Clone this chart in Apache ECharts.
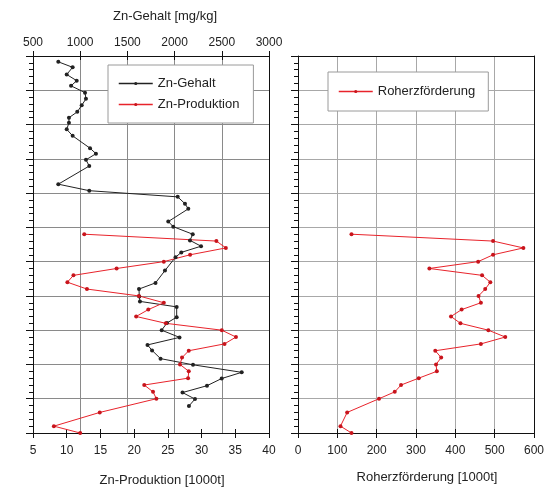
<!DOCTYPE html>
<html><head><meta charset="utf-8">
<script src="https://cdn.jsdelivr.net/npm/echarts@6/dist/echarts.min.js"></script>
<style>html,body{margin:0;padding:0;background:#fff}#c{width:547px;height:493px}</style>
</head><body><div id="c"></div>
<script>
// Zn-Gehalt (sediment) – year position and content mg/kg
const gehaltYears = [1958.3,1956.7,1954.6,1952.8,1951.3,1949.3,1947.5,1945.6,1943.7,1942.0,1940.5,1938.6,1936.7,1933.1,1931.5,1929.7,1927.9,1922.6,1920.7,1918.9,1916.9,1915.4,1911.7,1910.2,1908.0,1906.2,1904.5,1902.7,1901.3,1897.4,1893.8,1892.0,1889.8,1888.4,1886.8,1883.8,1882.1,1880.0,1877.9,1875.7,1874.1,1871.7,1869.9,1867.7,1865.9,1863.8,1861.8,1859.9,1857.9];
const gehaltValues = [768,920,857,963,903,1051,1061,1016,969,881,881,857,920,1104,1167,1061,1096,768,1096,2033,2110,2145,1933,1986,2192,2163,2280,2071,2010,1898,1798,1623,1626,1633,2022,2022,1919,1863,2052,1713,1761,1851,2195,2711,2499,2343,2084,2216,2152];
// Production years
const prodYears = [1908,1906,1904,1902,1900,1898,1896,1894,1892,1890,1888,1886,1884,1882,1880,1878,1876,1874,1872,1870,1868,1866,1864,1862,1860,1856,1852,1850];
const znProduktion = [12.6,32.2,33.6,28.3,24.4,17.4,11.0,10.1,13.0,20.7,24.4,22.1,20.3,24.7,33.0,35.1,33.4,28.1,27.1,26.8,28.1,28.0,21.5,22.8,23.3,14.9,8.1,12.0];
const roherz = [136,496,573,496,458,334,468,489,476,459,465,416,389,413,484,527,465,349,364,351,353,307,262,246,206,125,108,136];
// tick ranges
const gehaltTicks = {min:500, max:3000, interval:500};
const prodTicks = {min:5, max:40, interval:5};
const roherzTicks = {min:0, max:600, interval:100};
const yearTicks = {min:1850, max:1960, interval:10};

const zip = (xs, ys) => xs.map((x, i) => [x, ys[i]]);
const FONT = 'Liberation Sans, Arial, sans-serif';
const RED = '#e8232b';
const txt = {color:'#222', fontFamily:FONT, fontSize:12};
const plain = v => String(v);

function xAx(grid, pos, t, opts) {
  return Object.assign({
    type:'value', gridIndex:grid, position:pos, min:t.min, max:t.max, interval:t.interval,
    axisLine:{show:true, onZero:false, lineStyle:{color:'#111', width:1}},
    axisTick:{show:true, inside:false, length:5, lineStyle:{color:'#111'}},
    axisLabel:{show:true, margin:7, formatter:plain, ...txt},
    splitLine:{show:false}
  }, opts);
}
function dupTick(grid, pos, t) {
  return {type:'value', gridIndex:grid, position:pos, min:t.min, max:t.max, interval:t.interval,
    axisLine:{show:false, onZero:false}, axisTick:{show:true, inside:true, length:4, lineStyle:{color:'#111'}},
    axisLabel:{show:false}, splitLine:{show:false}};
}
function yAx(grid, gridColor) {
  return {type:'value', gridIndex:grid, position:'left', min:yearTicks.min, max:yearTicks.max, interval:yearTicks.interval,
    axisLine:{show:true, onZero:false, lineStyle:{color:'#111'}},
    axisTick:{show:true, inside:false, length:7, lineStyle:{color:'#111'}},
    minorTick:{show:true, splitNumber:5, length:4, lineStyle:{color:'#111'}},
    axisLabel:{show:false},
    splitLine:{show:true, lineStyle:{color:gridColor, width:1}}};
}
function yRight(grid) {
  return {type:'value', gridIndex:grid, position:'right', min:yearTicks.min, max:yearTicks.max,
    axisLine:{show:true, onZero:false, lineStyle:{color:'#111'}}, axisTick:{show:false}, axisLabel:{show:false}, splitLine:{show:false}};
}

const chart = echarts.init(document.getElementById('c'), null, {renderer:'canvas'});
chart.setOption({
  animation:false,
  backgroundColor:'#fff',
  grid:[{left:33, top:56, width:236, height:377}, {left:298, top:56, width:237, height:377}],
  xAxis:[
    xAx(0, 'top', gehaltTicks, {name:'Zn-Gehalt [mg/kg]', nameLocation:'middle', nameGap:33,
      nameTextStyle:{...txt, fontSize:13, padding:[0,0,0,28]},
      splitLine:{show:true, lineStyle:{color:'#8a8a8a', width:1}}}),
    xAx(0, 'bottom', prodTicks, {name:'Zn-Produktion [1000t]', nameLocation:'middle', nameGap:41,
      nameTextStyle:{...txt, fontSize:13, padding:[0,0,0,22]}, axisLabel:{show:true, margin:12, formatter:plain, ...txt}}),
    dupTick(0, 'top', gehaltTicks),
    dupTick(0, 'bottom', prodTicks),
    xAx(1, 'bottom', roherzTicks, {name:'Roherzförderung [1000t]', nameLocation:'middle', nameGap:38,
      nameTextStyle:{...txt, fontSize:13, padding:[0,0,0,22]}, axisLabel:{show:true, margin:12, formatter:plain, ...txt},
      splitLine:{show:true, lineStyle:{color:'#a8a8a8', width:1}}}),
    dupTick(1, 'bottom', roherzTicks),
    {type:'value', gridIndex:1, position:'top', min:roherzTicks.min, max:roherzTicks.max,
      axisLine:{show:true, onZero:false, lineStyle:{color:'#111'}}, axisTick:{show:false}, axisLabel:{show:false}, splitLine:{show:false}}
  ],
  yAxis:[yAx(0, '#8a8a8a'), yRight(0), yAx(1, '#a8a8a8'), yRight(1)],
  legend:[
    {left:108, top:65, orient:'vertical', data:['Zn-Gehalt','Zn-Produktion'], backgroundColor:'#fff',
      borderColor:'#9a9a9a', borderWidth:1, borderRadius:0, padding:[12,14,12,10], itemGap:8,
      itemWidth:34, itemHeight:4, itemStyle:{borderWidth:0}, lineStyle:{width:1.5},
      textStyle:{...txt, fontSize:13}},
    {left:328, top:72, orient:'vertical', data:['Roherzförderung'], backgroundColor:'#fff',
      borderColor:'#9a9a9a', borderWidth:1, borderRadius:0, padding:[13,13,13,10],
      itemWidth:34, itemHeight:4, itemStyle:{borderWidth:0}, lineStyle:{width:1.5},
      textStyle:{...txt, fontSize:13}}
  ],
  series:[
    {name:'Zn-Gehalt', type:'line', xAxisIndex:0, yAxisIndex:0, data:zip(gehaltValues, gehaltYears),
      symbol:'circle', symbolSize:4, lineStyle:{color:'#222', width:1}, itemStyle:{color:'#222'}},
    {name:'Zn-Produktion', type:'line', xAxisIndex:1, yAxisIndex:0, data:zip(znProduktion, prodYears),
      symbol:'circle', symbolSize:4, lineStyle:{color:RED, width:1}, itemStyle:{color:'#c8141c'}},
    {name:'Roherzförderung', type:'line', xAxisIndex:4, yAxisIndex:2, data:zip(roherz, prodYears),
      symbol:'circle', symbolSize:4, lineStyle:{color:RED, width:1}, itemStyle:{color:'#c8141c'}}
  ]
});
</script></body></html>
